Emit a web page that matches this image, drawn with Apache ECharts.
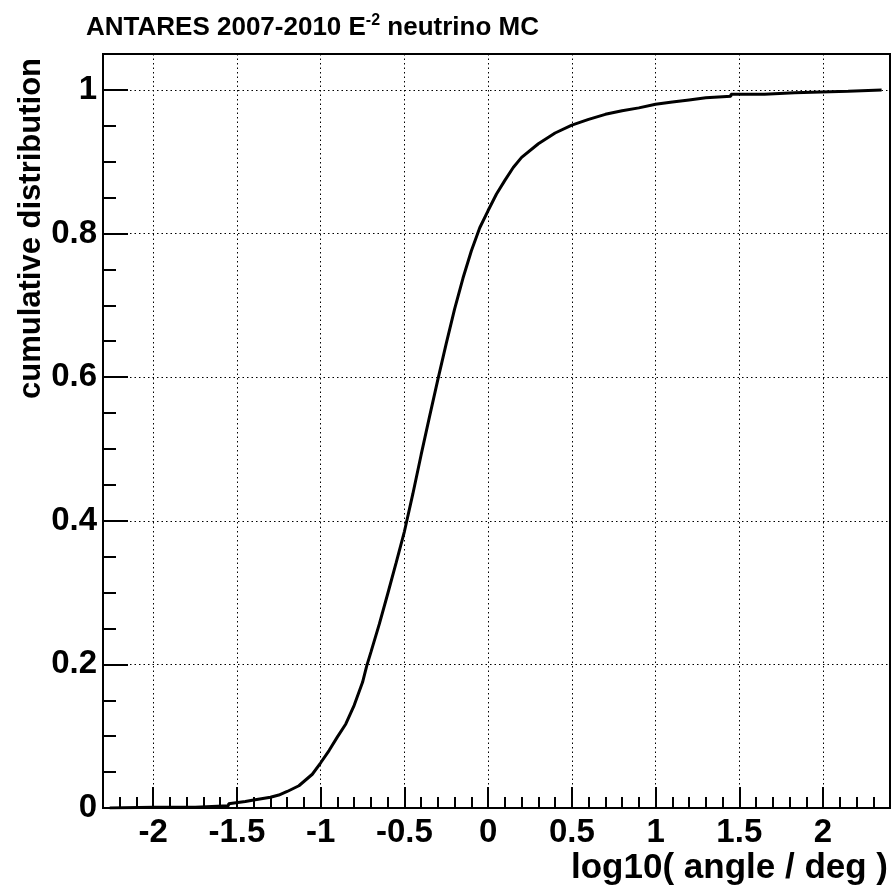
<!DOCTYPE html>
<html>
<head>
<meta charset="utf-8">
<script src="https://cdn.jsdelivr.net/npm/echarts@6/dist/echarts.min.js"></script>
<style>
  html, body { margin: 0; padding: 0; background: #fff; }
  #chart { width: 893px; height: 888px; }
</style>
</head>
<body>
<div id="chart"></div>
<script>
// ---- data ----
const xValues = [-2.26, -2.0, -1.75, -1.75, -1.55, -1.55, -1.45, -1.4, -1.3, -1.25, -1.2, -1.13, -1.05, -1.0,
  -0.95, -0.9, -0.85, -0.8, -0.75, -0.725, -0.7, -0.65, -0.6, -0.55, -0.5, -0.45, -0.4, -0.35, -0.3, -0.25,
  -0.2, -0.15, -0.1, -0.05, 0.0, 0.05, 0.1, 0.15, 0.2, 0.3, 0.4, 0.5, 0.6, 0.7, 0.8, 0.9, 1.0, 1.1, 1.2,
  1.3, 1.45, 1.45, 1.65, 1.65, 1.83, 1.83, 2.15, 2.15, 2.35];
const cumValues = [0.000, 0.001, 0.001, 0.003, 0.003, 0.006, 0.009, 0.011, 0.015, 0.018, 0.023, 0.031, 0.047, 0.063,
  0.080, 0.099, 0.117, 0.143, 0.175, 0.198, 0.217, 0.256, 0.298, 0.341, 0.385, 0.437, 0.492, 0.545, 0.597, 0.647,
  0.695, 0.738, 0.776, 0.808, 0.832, 0.855, 0.874, 0.892, 0.906, 0.925, 0.940, 0.951, 0.959, 0.966, 0.971, 0.975, 0.980, 0.983, 0.986,
  0.989, 0.991, 0.994, 0.994, 0.996, 0.996, 0.998, 0.998, 1.000, 1.000];
const xMajorTicks = [-2, -1.5, -1, -0.5, 0, 0.5, 1, 1.5, 2];
const yMajorTicks = [0, 0.2, 0.4, 0.6, 0.8, 1];
const xRange = [-2.3, 2.4];
const yRange = [0, 1.05];
const titleText = 'ANTARES 2007-2010 E';
const titleSup = '-2';
const titleRest = ' neutrino MC';
const xTitle = 'log10( angle / deg )';
const yTitle = 'cumulative distribution';

const FONT = '"Liberation Sans", Arial, Helvetica, sans-serif';
const seriesData = xValues.map((x, i) => [x, cumValues[i]]);

const chart = echarts.init(document.getElementById('chart'), null, { renderer: 'canvas' });
const gridLine = { show: true, lineStyle: { color: '#000', width: 1, type: [1.5, 3] } };
const noLine = { show: false, onZero: false };
chart.setOption({
  animation: false,
  backgroundColor: '#fff',
  title: {
    left: 81, top: 8,
    text: '{a|' + titleText + '}{s|' + titleSup + '}{a|' + titleRest + '}',
    textStyle: {
      rich: {
        a: { fontFamily: FONT, fontWeight: 'bold', fontSize: 26, color: '#000', lineHeight: 30 },
        s: { fontFamily: FONT, fontWeight: 'bold', fontSize: 16, color: '#000', verticalAlign: 'top', lineHeight: 16 }
      }
    }
  },
  grid: { left: 103, right: 3, top: 54, bottom: 80, show: true, borderColor: '#000', borderWidth: 2, backgroundColor: 'transparent' },
  xAxis: [
    {
      type: 'value', min: xRange[0], max: xRange[1], position: 'bottom',
      axisLine: noLine,
      axisTick: { show: true, inside: true, length: 21, customValues: xMajorTicks, lineStyle: { color: '#000', width: 2 } },
      axisLabel: { show: true, customValues: xMajorTicks, margin: 8, color: '#000', fontFamily: FONT, fontWeight: 'bold', fontSize: 33 },
      splitLine: gridLine
    },
    {
      type: 'value', min: xRange[0], max: xRange[1], interval: 0.1, position: 'bottom',
      axisLine: noLine,
      axisTick: { show: true, inside: true, length: 11, lineStyle: { color: '#000', width: 2 } },
      axisLabel: { show: false },
      splitLine: { show: false }
    }
  ],
  yAxis: [
    {
      type: 'value', min: yRange[0], max: yRange[1], position: 'left',
      axisLine: noLine,
      axisTick: { show: true, inside: true, length: 25, customValues: yMajorTicks, lineStyle: { color: '#000', width: 2 } },
      axisLabel: { show: true, customValues: yMajorTicks, margin: 6, color: '#000', fontFamily: FONT, fontWeight: 'bold', fontSize: 33 },
      splitLine: gridLine
    },
    {
      type: 'value', min: yRange[0], max: yRange[1], interval: 0.05, position: 'left',
      axisLine: noLine,
      axisTick: { show: true, inside: true, length: 13, lineStyle: { color: '#000', width: 2 } },
      axisLabel: { show: false },
      splitLine: { show: false }
    }
  ],
  graphic: [
    {
      type: 'text', x: 888, y: 886, silent: true,
      style: { text: xTitle, align: 'right', verticalAlign: 'bottom', fill: '#000', font: 'bold 35px ' + FONT }
    },
    {
      type: 'text', x: 31, y: 58, rotation: Math.PI / 2, silent: true,
      style: { text: yTitle, align: 'right', verticalAlign: 'middle', fill: '#000', font: 'bold 31px ' + FONT }
    }
  ],
  series: [
    {
      type: 'line', xAxisIndex: 0, yAxisIndex: 0, data: seriesData,
      showSymbol: false, symbol: 'none', smooth: false,
      lineStyle: { color: '#000', width: 3 }, clip: true
    }
  ]
});
</script>
</body>
</html>
